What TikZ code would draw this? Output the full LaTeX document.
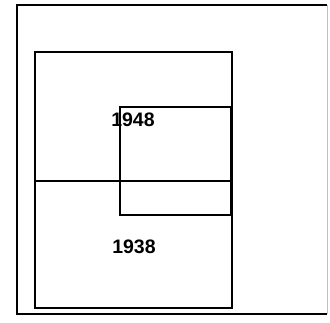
\documentclass[tikz,border=0pt]{standalone}
\usepackage{fontspec}
\setmainfont{Liberation Sans}
\begin{document}
\begin{tikzpicture}[x=1pt,y=-1pt,
  frame/.style={draw=black,line width=1.5pt},
  mainbox/.style={draw=black,line width=2pt},
  subbox/.style={draw=black,line width=1.2pt},
  yearlabel/.style={font=\fontsize{19.5}{22}\selectfont\bfseries,inner sep=0pt}]
\useasboundingbox (0,0) rectangle (330,322);
% outer frame
\draw[frame] (327,5) -- (17,5) -- (17,314) -- (327,314);
\draw[draw=black!25,line width=0.8pt] (327,5) -- (327,314);
% main box split by a horizontal line
\draw[mainbox] (35,52) rectangle (232,308);
\draw[mainbox] (35,181) -- (232,181);
% 1948 box
\draw[subbox] (120,107) rectangle (231,215);
\node[yearlabel] (y1948) at (133,119.5) {1948};
\node[yearlabel] (y1938) at (134,246.5) {1938};
\end{tikzpicture}
\end{document}
